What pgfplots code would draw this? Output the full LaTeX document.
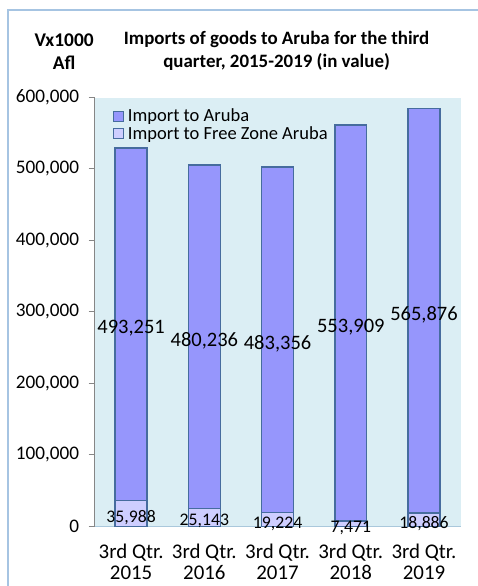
\documentclass[border=0pt]{standalone}
\usepackage{fontspec}
\setmainfont{Carlito}
\usepackage{pgfplots}
\usepackage{pgfplotstable}
\pgfplotsset{compat=1.18}
\definecolor{barTop}{RGB}{150,150,252}
\definecolor{barBot}{RGB}{206,206,255}
\definecolor{edge}{RGB}{70,108,158}
\definecolor{plotbg}{RGB}{219,238,244}
\definecolor{frame}{RGB}{166,196,226}
\definecolor{xline}{RGB}{170,200,220}
\definecolor{yline}{RGB}{134,134,134}

\pgfplotstableread{
x top bottom
0 493251 35988
1 480236 25143
2 483356 19224
3 553909 7471
4 565876 18886
}\imports

\begin{document}
\begin{tikzpicture}[x=1pt,y=1pt,/pgf/number format/.cd,fixed,1000 sep={,}]
\useasboundingbox (-95,-60) rectangle (385,529);
\draw[frame, line width=1.2pt] (-87,519) rectangle (392,-68);
\node[font=\bfseries\fontsize{19.5}{23}\selectfont, align=center] at (-30.5,477.5) {Vx1000\\Afl};
\node[font=\bfseries\fontsize{19}{23}\selectfont, align=center] at (183,477.5) {Imports of goods to Aruba for the third\\quarter, 2015-2019 (in value)};
\begin{axis}[
  at={(0,0)}, anchor=south west,
  scale only axis, width=368pt, height=431pt,
  xmin=-0.5, xmax=4.5, ymin=0, ymax=600000,
  ybar stacked, bar width=32pt,
  axis lines*=left,
  axis background/.style={fill=plotbg},
  x axis line style={draw=xline, line width=1pt},
  y axis line style={draw=yline, line width=1pt},
  xtick={0,1,2,3,4},
  xticklabels={{3rd Qtr.\\2015},{3rd Qtr.\\2016},{3rd Qtr.\\2017},{3rd Qtr.\\2018},{3rd Qtr.\\2019}},
  xticklabel style={align=center, font=\fontsize{21}{21.5}\selectfont, yshift=-8pt},
  xtick style={draw=none},
  ytick={0,100000,200000,300000,400000,500000,600000},
  scaled y ticks=false,
  /pgf/number format/assume math mode=true,
  yticklabel style={font=\fontsize{19.3}{22}\selectfont, /pgf/number format/fixed, /pgf/number format/1000 sep={,}, xshift=-6pt},
  ytick style={draw=yline, line width=1pt},
  tick align=outside, major tick length=6pt,
  reverse legend=true,
  legend cell align=left,
  legend style={at={(0.05,0.978)}, anchor=north west, draw=none, fill=none,
    font=\fontsize{18.6}{20}\selectfont, row sep=-1pt, inner sep=0pt,
    nodes={inner xsep=4pt}},
  legend image code/.code={\draw[#1, line width=1pt] (0pt,-5pt) rectangle (10pt,5pt);},
  nodes near coords,
  point meta=explicit,
]
\addplot[fill=barBot, draw=edge, line width=1.5pt,
  every node near coord/.append style={anchor=center, yshift=-4pt, font=\fontsize{17.8}{20}\selectfont, text=black}]
  table[x=x, y=bottom, meta=bottom] {\imports};
\addlegendentry{Import to Free Zone Aruba}
\addplot[fill=barTop, draw=edge, line width=1.5pt,
  every node near coord/.append style={anchor=center, yshift=-4pt, font=\fontsize{20.6}{24}\selectfont, text=black}]
  table[x=x, y=top, meta=top] {\imports};
\addlegendentry{Import to Aruba}
\end{axis}
\end{tikzpicture}
\end{document}
